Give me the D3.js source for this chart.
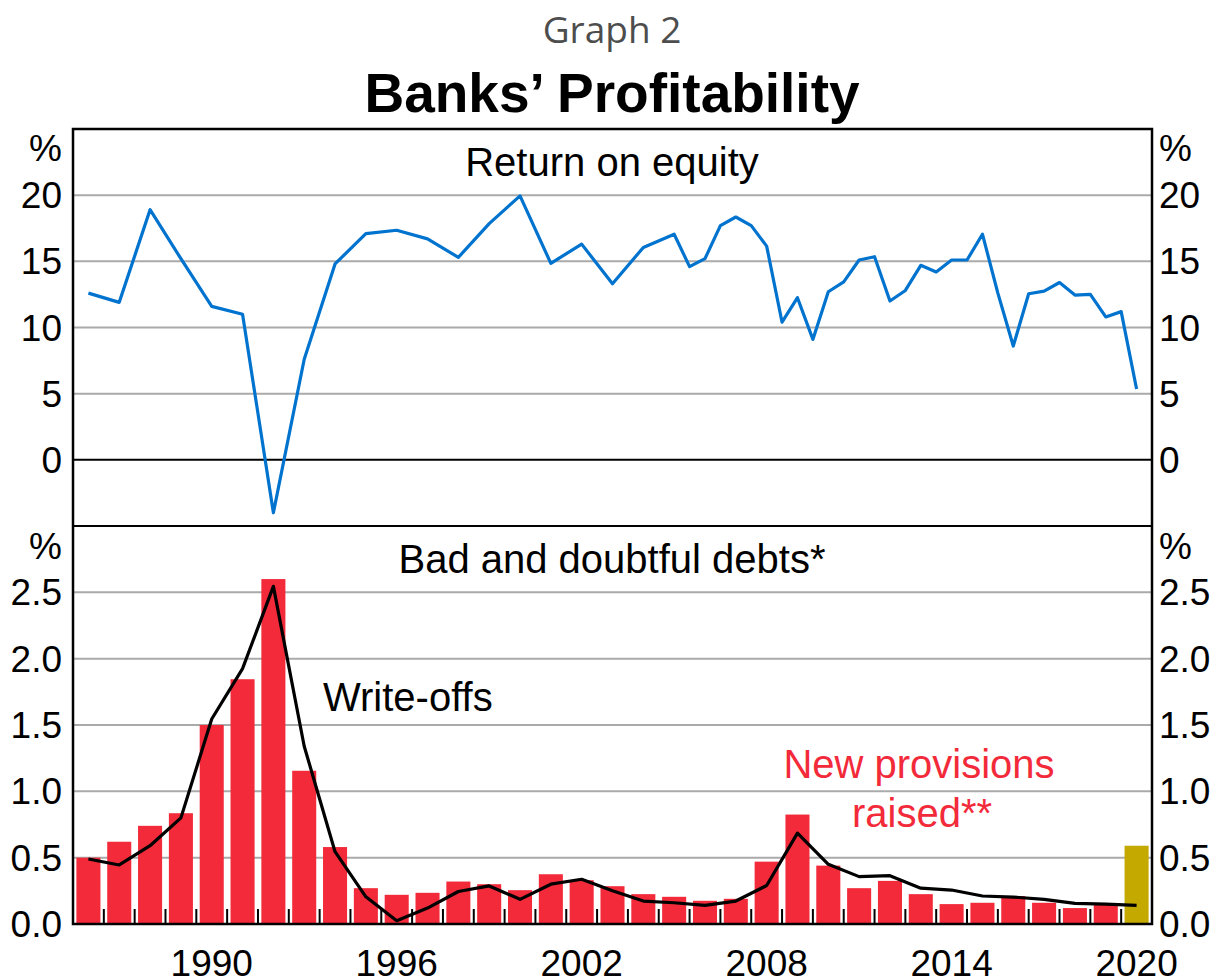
<!DOCTYPE html>
<meta charset="utf-8">
<script src="https://d3js.org/d3.v7.min.js"></script>
<style>
  body { margin: 0; background: #fff; }
  text { font-family: "Liberation Sans", Arial, sans-serif; }
</style>
<div id="chart"></div>
<script>

// ---- data ----
// return on equity: annual to 2005, half-yearly after
var roeDates = [1986.5, 1987.5, 1988.5, 1989.5, 1990.5, 1991.5, 1992.5, 1993.5, 1994.5, 1995.5,
  1996.5, 1997.5, 1998.5, 1999.5, 2000.5, 2001.5, 2002.5, 2003.5, 2004.5, 2005.5,
  2006.0, 2006.5, 2007.0, 2007.5, 2008.0, 2008.5, 2009.0, 2009.5, 2010.0, 2010.5,
  2011.0, 2011.5, 2012.0, 2012.5, 2013.0, 2013.5, 2014.0, 2014.5, 2015.0, 2015.5,
  2016.0, 2016.5, 2017.0, 2017.5, 2018.0, 2018.5, 2019.0, 2019.5, 2020.0, 2020.5];
var roeValues = [12.6, 11.9, 18.9, 15.2, 11.6, 11.0, -4.0, 7.6, 14.8, 17.1,
  17.35, 16.7, 15.3, 17.85, 19.95, 14.85, 16.3, 13.3, 16.05, 17.05,
  14.6, 15.2, 17.7, 18.35, 17.7, 16.15, 10.4, 12.25, 9.1, 12.7,
  13.45, 15.1, 15.35, 12.0, 12.8, 14.7, 14.2, 15.1, 15.1, 17.05,
  12.6, 8.6, 12.55, 12.75, 13.4, 12.45, 12.5, 10.8, 11.2, 5.35];

// bad and doubtful debts, per cent of loans
var years = [1986, 1987, 1988, 1989, 1990, 1991, 1992, 1993, 1994, 1995, 1996, 1997,
  1998, 1999, 2000, 2001, 2002, 2003, 2004, 2005, 2006, 2007, 2008, 2009, 2010,
  2011, 2012, 2013, 2014, 2015, 2016, 2017, 2018, 2019, 2020];
var provisions = [0.50, 0.62, 0.74, 0.835, 1.50, 1.845, 2.60, 1.155, 0.58, 0.27, 0.22, 0.235,
  0.32, 0.30, 0.255, 0.375, 0.33, 0.285, 0.225, 0.205, 0.175, 0.19, 0.47, 0.825, 0.44,
  0.27, 0.325, 0.225, 0.15, 0.16, 0.21, 0.16, 0.12, 0.15, 0.59];
var writeOffs = [0.49, 0.445, 0.59, 0.80, 1.545, 1.925, 2.545, 1.34, 0.545, 0.205, 0.025, 0.12,
  0.245, 0.287, 0.186, 0.30, 0.337, 0.25, 0.173, 0.16, 0.14, 0.173, 0.29, 0.685, 0.45,
  0.357, 0.364, 0.27, 0.256, 0.211, 0.203, 0.186, 0.155, 0.15, 0.14];

var roeTicks = [0, 5, 10, 15, 20];
var debtTicks = [0, 0.5, 1.0, 1.5, 2.0, 2.5];
var yearLabels = [1990, 1996, 2002, 2008, 2014, 2020];

// ---- layout ----
var W = 1217, H = 980;
var pLeft = 73, pRight = 1152, pTop = 129, pMid = 526, pBottom = 924;

var svg = d3.select("#chart").append("svg")
  .attr("width", W)
  .attr("height", H);

var x = d3.scaleLinear().domain([1986, 2021]).range([pLeft, pRight]);
var yTop = d3.scaleLinear().domain([-5, 25]).range([pMid, pTop]);
var yBot = d3.scaleLinear().domain([0, 3]).range([pBottom, pMid]);

// titles
svg.append("text")
  .attr("x", 612).attr("y", 43)
  .attr("text-anchor", "middle")
  .style("font-family", "'Open Sans', sans-serif")
  .style("font-size", "37px")
  .style("fill", "#4d4d4d")
  .text("Graph 2");

svg.append("text")
  .attr("x", 612).attr("y", 112)
  .attr("text-anchor", "middle")
  .style("font-size", "55px")
  .style("font-weight", "bold")
  .text("Banks\u2019 Profitability");

// gridlines
svg.append("g").selectAll("line")
  .data(roeTicks.filter(function(d) { return d != 0; }))
  .enter().append("line")
    .attr("x1", pLeft).attr("x2", pRight)
    .attr("y1", function(d) { return yTop(d); })
    .attr("y2", function(d) { return yTop(d); })
    .style("stroke", "#aaaaaa")
    .style("stroke-width", 2);

svg.append("g").selectAll("line")
  .data(debtTicks.filter(function(d) { return d != 0; }))
  .enter().append("line")
    .attr("x1", pLeft).attr("x2", pRight)
    .attr("y1", function(d) { return yBot(d); })
    .attr("y2", function(d) { return yBot(d); })
    .style("stroke", "#aaaaaa")
    .style("stroke-width", 2);

// zero line, top panel
svg.append("line")
  .attr("x1", pLeft).attr("x2", pRight)
  .attr("y1", yTop(0)).attr("y2", yTop(0))
  .style("stroke", "#000")
  .style("stroke-width", 2);

// bars: new provisions (latest one in gold)
svg.append("g").selectAll("rect")
  .data(years)
  .enter().append("rect")
    .attr("x", function(d) { return x(d + 0.11); })
    .attr("width", function(d) { return x(d + 0.89) - x(d + 0.11); })
    .attr("y", function(d, i) { return yBot(provisions[i]); })
    .attr("height", function(d, i) { return yBot(0) - yBot(provisions[i]); })
    .style("fill", function(d) { return d == 2020 ? "#c4a900" : "#f22a3a"; });

// year ticks along bottom
svg.append("g").selectAll("line")
  .data(years.slice(1))
  .enter().append("line")
    .attr("x1", function(d) { return x(d); })
    .attr("x2", function(d) { return x(d); })
    .attr("y1", pBottom).attr("y2", pBottom - 15)
    .style("stroke", "#000")
    .style("stroke-width", 2);

// write-offs line
var lineBot = d3.line()
  .x(function(d, i) { return x(years[i] + 0.5); })
  .y(function(d) { return yBot(d); });
svg.append("path")
  .datum(writeOffs)
  .attr("d", lineBot)
  .style("fill", "none")
  .style("stroke", "#000")
  .style("stroke-width", 3.2)
  .style("stroke-linejoin", "round");

// ROE line
var lineTop = d3.line()
  .x(function(d, i) { return x(roeDates[i]); })
  .y(function(d) { return yTop(d); });
svg.append("path")
  .datum(roeValues)
  .attr("d", lineTop)
  .style("fill", "none")
  .style("stroke", "#0073cf")
  .style("stroke-width", 3.2)
  .style("stroke-linejoin", "round");

// frame
svg.append("rect")
  .attr("x", pLeft).attr("y", pTop)
  .attr("width", pRight - pLeft).attr("height", pBottom - pTop)
  .style("fill", "none")
  .style("stroke", "#000")
  .style("stroke-width", 2.5);
svg.append("line")
  .attr("x1", pLeft).attr("x2", pRight)
  .attr("y1", pMid).attr("y2", pMid)
  .style("stroke", "#000")
  .style("stroke-width", 2);

// y labels, both sides
function yLabels(ticks, scale, fmt, unitY) {
  [[pLeft - 11, "end"], [pRight + 7, "start"]].forEach(function(s) {
    var g = svg.append("g").style("font-size", "37px");
    g.selectAll("text")
      .data(ticks)
      .enter().append("text")
        .attr("x", s[0])
        .attr("y", function(d) { return scale(d) + 13; })
        .attr("text-anchor", s[1])
        .text(fmt);
    g.append("text")
      .attr("x", s[0]).attr("y", unitY)
      .attr("text-anchor", s[1])
      .text("%");
  });
}
yLabels(roeTicks, yTop, function(d) { return d; }, 161);
yLabels(debtTicks, yBot, d3.format(".1f"), 559);

// x labels
svg.append("g").style("font-size", "37px")
  .selectAll("text")
  .data(yearLabels)
  .enter().append("text")
    .attr("x", function(d) { return x(d + 0.5); })
    .attr("y", 976)
    .attr("text-anchor", "middle")
    .text(function(d) { return d; });

// panel titles and annotations
svg.append("text")
  .attr("x", 612).attr("y", 176)
  .attr("text-anchor", "middle")
  .style("font-size", "40px")
  .text("Return on equity");

svg.append("text")
  .attr("x", 612).attr("y", 573)
  .attr("text-anchor", "middle")
  .style("font-size", "40px")
  .text("Bad and doubtful debts*");

svg.append("text")
  .attr("x", 323).attr("y", 711)
  .style("font-size", "40px")
  .text("Write-offs");

svg.append("text")
  .attr("x", 919).attr("y", 778)
  .attr("text-anchor", "middle")
  .style("font-size", "40px")
  .style("fill", "#f22a3a")
  .text("New provisions");
svg.append("text")
  .attr("x", 922).attr("y", 827)
  .attr("text-anchor", "middle")
  .style("font-size", "40px")
  .style("fill", "#f22a3a")
  .text("raised**");

</script>
